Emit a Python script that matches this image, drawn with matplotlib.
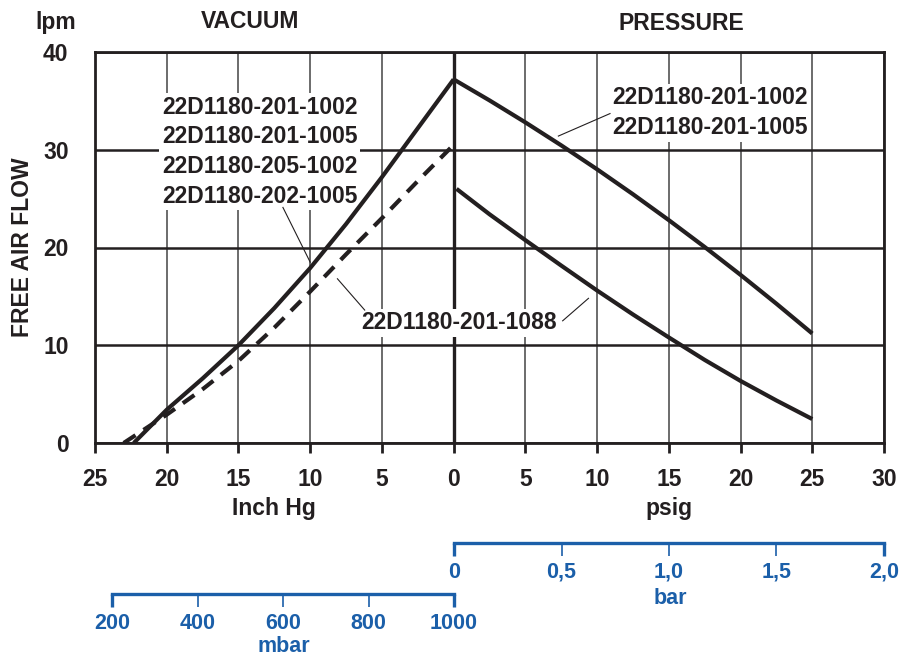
import numpy as np
import matplotlib.pyplot as plt
from matplotlib.ticker import FixedLocator

plt.rcParams['font.family'] = ['Liberation Sans', 'DejaVu Sans']
plt.rcParams['font.weight'] = 'bold'

# ===============================
# Data
# ===============================
# vacuum side, x in inch Hg
vac_inhg_1002 = [22.3, 20, 17.5, 15, 12.5, 10, 7.5, 5, 2.5, 0]
vac_lpm_1002 = [0.0, 3.4, 6.6, 10.0, 13.8, 17.9, 22.4, 27.2, 32.2, 37.2]
vac_inhg_1088 = [23.0, 20, 17.5, 15, 12.5, 10, 7.5, 5, 2.5, 0]
vac_lpm_1088 = [0.0, 2.9, 5.5, 8.4, 11.8, 15.5, 19.3, 23.0, 26.8, 30.5]

# pressure side, x in psig
prs_psig_1002 = [0, 2.5, 5, 7.5, 10, 12.5, 15, 17.5, 20, 22.5, 25]
prs_lpm_1002 = [37.2, 35.05, 32.8, 30.45, 28.0, 25.45, 22.8, 20.05, 17.2, 14.25, 11.2]
prs_psig_1088 = [0.2, 2.5, 5, 7.5, 10, 12.5, 15, 17.5, 20, 22.5, 25]
prs_lpm_1088 = [26.0, 23.4, 20.75, 18.15, 15.6, 13.15, 10.8, 8.5, 6.35, 4.35, 2.45]

x_ticks = [-25, -20, -15, -10, -5, 0, 5, 10, 15, 20, 25, 30]
y_ticks = [0, 10, 20, 30, 40]

bar_ticks = [0, 0.5, 1.0, 1.5, 2.0]
bar_labels = ["0", "0,5", "1,0", "1,5", "2,0"]
mbar_ticks = [200, 400, 600, 800, 1000]
mbar_labels = ["200", "400", "600", "800", "1000"]

label_left = "22D1180-201-1002\n22D1180-201-1005\n22D1180-205-1002\n22D1180-202-1005"
label_right = "22D1180-201-1002\n22D1180-201-1005"
label_1088 = "22D1180-201-1088"

# ===============================
# Layout helpers (pixels -> figure fraction)
# ===============================
W, H = 903, 660
def fx(px):
    return px / W
def fy(py):
    return 1 - py / H

INK = "#231f20"
BLUE = "#1b5fa9"
FS = 16.5

fig = plt.figure(figsize=(9.03, 6.6), dpi=100)
ax = fig.add_axes([fx(95), fy(443), fx(884) - fx(95), fy(52) - fy(443)])

ax.set_xlim(-25, 30)
ax.set_ylim(0, 40)

# grid
ax.set_axisbelow(True)
ax.xaxis.set_major_locator(FixedLocator(x_ticks))
ax.yaxis.set_major_locator(FixedLocator(y_ticks))
ax.yaxis.grid(True, color=INK, lw=1.8)
ax.xaxis.grid(True, color="#444444", lw=1.1)
ax.axvline(0, color=INK, lw=2.4, zorder=2)

for s in ax.spines.values():
    s.set_linewidth(2.0)
    s.set_color(INK)

ax.set_xticklabels([str(abs(t)) for t in x_ticks])
ax.tick_params(axis="x", direction="out", length=7.2, width=2, color=INK,
               pad=10.5, labelsize=FS, labelcolor=INK)
ax.tick_params(axis="y", which="major", length=0, pad=19, labelsize=FS,
               labelcolor=INK)
ax.set_yticks([0, 40], minor=True)
ax.tick_params(axis="y", which="minor", direction="out", length=13.7,
               width=2, color=INK)

# curves
line_kw = dict(color=INK, lw=3.0, solid_capstyle="butt",
               solid_joinstyle="round", zorder=4)
ax.plot([-v for v in vac_inhg_1002], vac_lpm_1002, **line_kw)
ax.plot([-v for v in vac_inhg_1088], vac_lpm_1088, color=INK, lw=3.0,
        dashes=(3.4, 2.3), dash_capstyle="butt", zorder=4)
ax.plot(prs_psig_1002, prs_lpm_1002, **line_kw)
ax.plot(prs_psig_1088, prs_lpm_1088, **line_kw)

# labels with white boxes
box = dict(facecolor="white", edgecolor="none", pad=2)
ax.text(-13.5, 29.8, label_left, ha="center", va="center", fontsize=FS,
        color=INK, linespacing=1.37, bbox=box, zorder=3)
ax.text(17.9, 33.8, label_right, ha="center", va="center", fontsize=FS,
        color=INK, linespacing=1.37, bbox=box, zorder=3)
ax.text(0.4, 12.3, label_1088, ha="center", va="center", fontsize=FS,
        color=INK, bbox=box, zorder=3)

# leader lines
leaders = [
    ((-11.9, 24.1), (-10.0, 18.5)),
    ((10.9, 33.7), (7.3, 31.4)),
    ((-6.2, 13.6), (-8.1, 16.8)),
    ((7.6, 12.5), (9.4, 14.8)),
]
for (x0, y0), (x1, y1) in leaders:
    ax.plot([x0, x1], [y0, y1], color=INK, lw=0.8, zorder=4)

# titles / axis names
fig.text(fx(56), fy(23), "lpm", ha="center", va="center", fontsize=FS, color=INK)
fig.text(fx(250), fy(21), "VACUUM", ha="center", va="center", fontsize=FS, color=INK)
fig.text(fx(681), fy(24), "PRESSURE", ha="center", va="center", fontsize=FS, color=INK)
fig.text(fx(23), fy(247), "FREE AIR FLOW", ha="center", va="center",
         rotation=90, fontsize=FS, color=INK)
fig.text(fx(274), fy(515), "Inch Hg", ha="center", va="baseline", fontsize=FS, color=INK)
fig.text(fx(669), fy(515), "psig", ha="center", va="baseline", fontsize=FS, color=INK)

# ===============================
# Blue unit scales
# ===============================
def unit_scale(x0, x1, y, lim, ticks, labels):
    a = fig.add_axes([fx(x0), fy(y), fx(x1) - fx(x0), 0.0001])
    a.patch.set_visible(False)
    for k in ("top", "left", "right"):
        a.spines[k].set_visible(False)
    a.spines["bottom"].set_color(BLUE)
    a.spines["bottom"].set_linewidth(2.4)
    a.set_xlim(*lim)
    a.set_yticks([])
    ends = [ticks[0], ticks[-1]]
    mids = ticks[1:-1]
    a.set_xticks(ends)
    a.set_xticklabels([labels[0], labels[-1]])
    a.set_xticks(mids, minor=True)
    a.set_xticklabels(labels[1:-1], minor=True)
    a.tick_params(axis="x", which="major", direction="out", length=9.4,
                  width=2.4, color=BLUE, pad=4, labelsize=15.5, labelcolor=BLUE)
    a.tick_params(axis="x", which="minor", direction="out", length=9.4,
                  width=1.2, color=BLUE, pad=4, labelsize=15.5, labelcolor=BLUE)
    return a

unit_scale(454, 884, 543, (0, 2.0), bar_ticks, bar_labels)
unit_scale(112, 454, 594, (200, 1000), mbar_ticks, mbar_labels)
fig.text(fx(670), fy(598), "bar", ha="center", va="center", fontsize=15.5, color=BLUE)
fig.text(fx(284), fy(647), "mbar", ha="center", va="center", fontsize=15.5, color=BLUE)

fig.savefig("out.png", dpi=100)
